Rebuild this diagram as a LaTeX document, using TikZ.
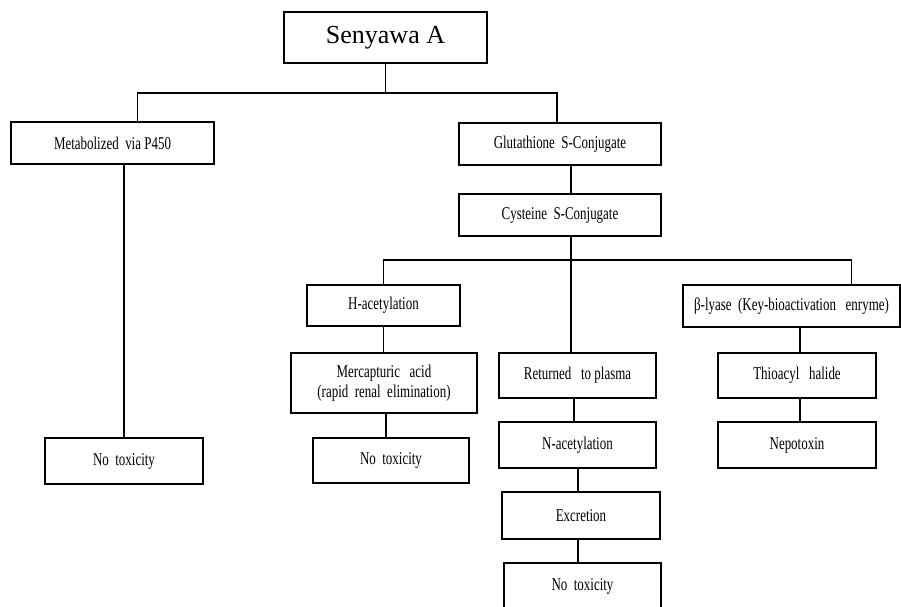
\documentclass[tikz,border=0pt]{standalone}
\usepackage{fontspec}
\setmainfont{Liberation Serif}
\newfontfamily\narrowserif[FakeStretch=0.72]{Liberation Serif}
\usepackage{tikz}

\tikzset{
  box/.style={draw, line width=1.3pt, inner sep=1pt, align=center,
    font=\narrowserif\fontsize{18}{20}\selectfont},
  link/.style={line width=1.3pt}
}

\begin{document}
\begin{tikzpicture}[x=1pt,y=-1pt]
\clip (0,0) rectangle (901,606);
\fill[white] (0,0) rectangle (901,606);

% Text Node
\node [box, minimum width=203, minimum height=51, font=\fontsize{26}{28}\selectfont] (senyawa) at (385.5,37.5) {Senyawa A};
% Text Node
\node [box, minimum width=203, minimum height=42] (metab) at (112.5,143) {Metabolized\ \ via P450};
\node [box, minimum width=158, minimum height=46] (notox1) at (124,461) {No\ \ toxicity};
% Text Node
\node [box, minimum width=202, minimum height=42] (gluta) at (560,144) {Glutathione\ \ S-Conjugate};
\node [box, minimum width=202, minimum height=42] (cyst) at (560,215) {Cysteine\ \ S-Conjugate};
% Text Node
\node [box, minimum width=153, minimum height=41] (hacet) at (383.5,305.5) {H-acetylation};
\node [box, minimum width=186, minimum height=60] (mercap) at (384,383) {Mercapturic\ \ \ acid\\(rapid\ \ renal\ \ elimination)};
\node [box, minimum width=156, minimum height=45] (notox2) at (391,460.5) {No\ \ toxicity};
% Text Node
\node [box, minimum width=157, minimum height=45] (return) at (577.5,375.5) {Returned\ \ \ to plasma};
\node [box, minimum width=157, minimum height=46] (nacet) at (577.5,445) {N-acetylation};
\node [box, minimum width=158, minimum height=47] (excr) at (581,515.5) {Excretion};
\node [box, minimum width=157, minimum height=46] (notox3) at (582.5,586) {No\ \ toxicity};
% Text Node
\node [box, minimum width=217, minimum height=42] (blyase) at (791.5,306) {β-lyase\ \ (Key-bioactivation\ \ \ enryme)};
\node [box, minimum width=158, minimum height=45] (thio) at (797,375.5) {Thioacyl\ \ \ halide};
\node [box, minimum width=158, minimum height=46] (nepo) at (797,445) {Nepotoxin};

\coordinate (top) at (385.5,93);
\coordinate (mid) at (571,260);

%Straight Lines
\draw [link] (senyawa.south) -- (top);
\draw [link] ([xshift=25]metab.north) |- (top) -| ([xshift=-3]gluta.north);
\draw [link] (notox1.north) -- (notox1.north |- metab.south);
\draw [link] ([xshift=11]gluta.south) -- ([xshift=11]cyst.north);
\draw [link] ([xshift=11]cyst.south) -- (mid);
\draw [link] (hacet.north) |- (mid) -| ([xshift=60]blyase.north);
\draw [link] (mid) -- (mid |- return.north);
%Straight Lines
\draw [link] (hacet.south) -- (hacet.south |- mercap.north);
\draw [link] ([xshift=2]mercap.south) -- ([xshift=2]mercap.south |- notox2.north);
\draw [link] ([xshift=-3.5]return.south) -- ([xshift=-3.5]return.south |- nacet.north);
\draw [link] ([xshift=0.5]nacet.south) -- ([xshift=0.5]nacet.south |- excr.north);
\draw [link] ([xshift=-3]excr.south) -- ([xshift=-3]excr.south |- notox3.north);
\draw [link] ([xshift=8.5]blyase.south) -- ([xshift=3]thio.north);
\draw [link] ([xshift=3]thio.south) -- ([xshift=3]nepo.north);

\end{tikzpicture}
\end{document}
